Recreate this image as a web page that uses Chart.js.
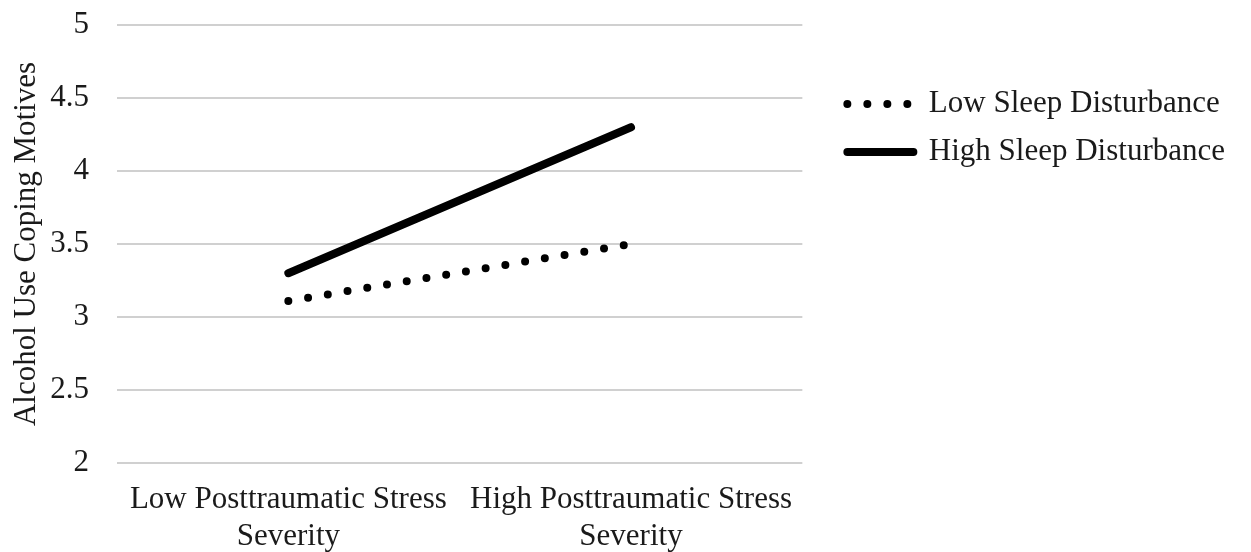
<!DOCTYPE html>
<html lang="en">
<head>
    <meta charset="UTF-8">
    <title>Alcohol Use Coping Motives</title>
    <style>
        html, body { margin: 0; padding: 0; background: #ffffff; }
        #wrap { width: 1251px; height: 552px; }
    </style>
</head>
<body>
<div id="wrap"><canvas id="myChart"></canvas></div>

<script src="https://cdn.jsdelivr.net/npm/chart.js"></script>
<script>
    const categories = [
        ["Low Posttraumatic Stress", "Severity"],
        ["High Posttraumatic Stress", "Severity"]
    ];
    const lowSleep = [3.11, 3.50];
    const highSleep = [3.30, 4.30];
    const yTitle = "Alcohol Use Coping Motives";

    const serif = "'Liberation Serif', 'Times New Roman', serif";
    const textColor = "#1a1a1a";
    const fontSize = 31;

    // legend markers should copy the dataset line (dash + round caps)
    function legendLabels(chart) {
        const items = Chart.defaults.plugins.legend.labels.generateLabels(chart);
        items.forEach((item, i) => {
            const ds = chart.data.datasets[i];
            item.lineDash = ds.borderDash || [];
            item.lineCap = 'round';
            item.lineWidth = ds.borderWidth;
            item.strokeStyle = ds.borderColor;
        });
        return items;
    }

    const ctx = document.getElementById("myChart").getContext('2d');
    new Chart(ctx, {
        type: 'line',
        data: {
            labels: categories,
            datasets: [
                {
                    label: 'Low Sleep Disturbance',
                    data: lowSleep,
                    borderColor: "#000000",
                    backgroundColor: "#000000",
                    borderWidth: 8,
                    borderDash: [0, 20],
                    borderCapStyle: 'round',
                    pointRadius: 0,
                    pointStyle: 'line'
                },
                {
                    label: 'High Sleep Disturbance',
                    data: highSleep,
                    borderColor: "#000000",
                    backgroundColor: "#000000",
                    borderWidth: 8,
                    borderCapStyle: 'round',
                    pointRadius: 0,
                    pointStyle: 'line'
                }
            ]
        },
        options: {
            responsive: true,
            maintainAspectRatio: false,
            animation: false,
            layout: {
                padding: {left: 8, right: 16, top: 25, bottom: 0}
            },
            plugins: {
                tooltip: {enabled: false},
                legend: {
                    position: 'right',
                    align: 'start',
                    maxWidth: 440,
                    title: {
                        display: true,
                        text: ' ',
                        padding: {top: 32, bottom: 0}
                    },
                    labels: {
                        usePointStyle: true,
                        pointStyle: 'line',
                        pointStyleWidth: 66,
                        boxHeight: 8,
                        padding: 17,
                        color: textColor,
                        font: {family: serif, size: fontSize},
                        generateLabels: legendLabels
                    }
                }
            },
            scales: {
                x: {
                    offset: true,
                    grid: {display: false, drawTicks: false},
                    border: {display: false},
                    ticks: {
                        color: textColor,
                        font: {family: serif, size: fontSize},
                        padding: 18,
                        maxRotation: 0
                    },
                    afterFit: s => { s.height = 89; }
                },
                y: {
                    min: 2,
                    max: 5,
                    grid: {
                        color: "#d0d0d0",
                        lineWidth: 2,
                        drawTicks: true,
                        tickLength: 28,
                        tickColor: 'rgba(0,0,0,0)'
                    },
                    border: {display: false},
                    ticks: {
                        stepSize: 0.5,
                        color: textColor,
                        padding: 0,
                        font: {family: serif, size: fontSize},
                        callback: v => String(v)
                    },
                    title: {
                        display: true,
                        text: yTitle,
                        color: textColor,
                        font: {family: serif, size: fontSize},
                        padding: {top: 0, bottom: 5}
                    },
                    afterFit: s => { s.width = 109; }
                },
                // empty axis on the right, only to leave a gap before the legend
                gap: {
                    position: 'right',
                    grid: {display: false, drawTicks: false},
                    border: {display: false},
                    ticks: {display: false},
                    afterFit: s => { s.width = 28; }
                }
            }
        }
    });
</script>
</body>
</html>
